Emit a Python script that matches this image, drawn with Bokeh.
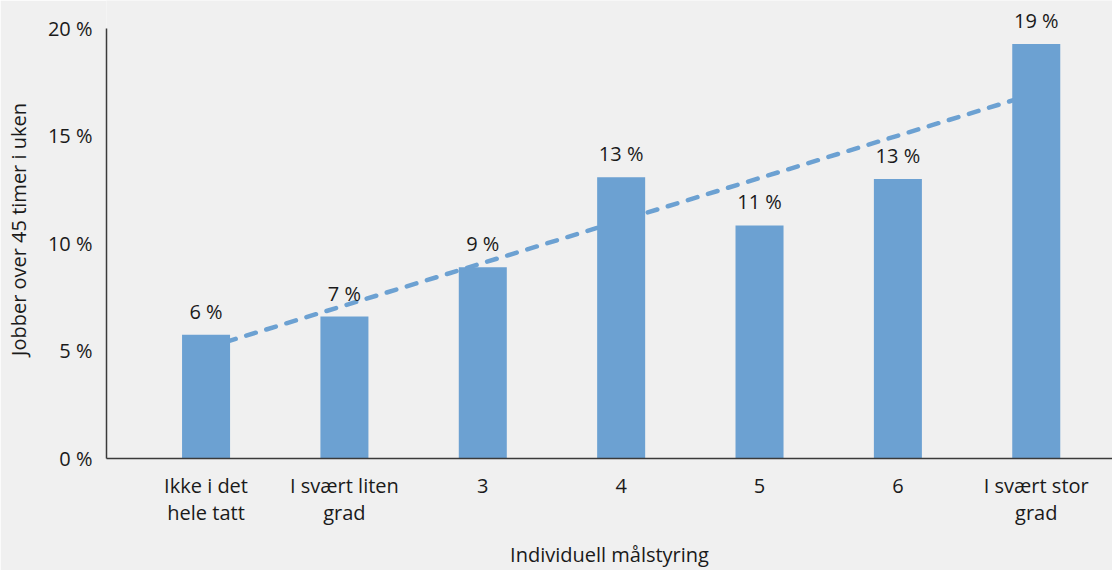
import numpy as np
from bokeh.plotting import figure
from bokeh.models import ColumnDataSource, FixedTicker, LabelSet, Range1d
from bokeh.core.properties import value
from bokeh.embed import file_html
from bokeh.resources import INLINE

# ---- data ----
categories = ["Ikke i det\nhele tatt", "I svært liten\ngrad", "3", "4", "5", "6", "I svært stor\ngrad"]
values = [5.76, 6.6, 8.9, 13.08, 10.84, 13.0, 19.28]
y_ticks = [0, 5, 10, 15, 20]
y_tick_labels = ["0 %", "5 %", "10 %", "15 %", "20 %"]
x_title = "Individuell målstyring"
y_title = "Jobber over 45 timer i uken"

FONT = "Open Sans"
BLUE = "#6CA1D2"
BG = "#F0F0F0"
TXT = "#1a1a1a"

xs = np.arange(1, len(values) + 1)
labels = [f"{round(v)} %" for v in values]
src = ColumnDataSource(dict(x=xs, top=values, label=labels))

# linear trend (least squares) from the data
slope, intercept = np.polyfit(xs, values, 1)
trend_x = [xs[0], xs[-1]]
trend_y = [intercept + slope * xs[0], intercept + slope * xs[-1]]

p = figure(width=1112, height=570, output_backend="svg", toolbar_location=None,
           x_range=Range1d(0.2805, 7.551), y_range=Range1d(0, 21.3),
           background_fill_color=BG, border_fill_color=BG,
           min_border_left=106, min_border_right=0, min_border_top=0, min_border_bottom=112)
p.outline_line_color = None
p.grid.visible = False

p.line(trend_x, trend_y, line_color=BLUE, line_width=4.5, line_dash="10 11", line_cap="round")
p.vbar(x="x", top="top", width=0.347, bottom=0, source=src, fill_color=BLUE, line_color=None)

p.add_layout(LabelSet(x="x", y="top", text="label", source=src, text_align="center",
                      text_baseline="alphabetic", y_offset=16, text_font=value(FONT),
                      text_font_size=value("20px"), text_color=TXT))

# y axis
ya = p.yaxis[0]
ya.ticker = FixedTicker(ticks=y_ticks)
ya.major_label_overrides = {t: l for t, l in zip(y_ticks, y_tick_labels)}
ya.bounds = (0, 20)
ya.axis_label = y_title
# x axis
xa = p.xaxis[0]
xa.ticker = FixedTicker(ticks=list(xs))
xa.major_label_overrides = {int(x): c for x, c in zip(xs, categories)}
xa.axis_label = x_title

for ax in (xa, ya):
    ax.axis_line_color = "#3a3a3a"
    ax.axis_line_width = 1.5
    ax.major_tick_out = 0
    ax.major_tick_in = 0
    ax.minor_tick_out = 0
    ax.minor_tick_in = 0
    ax.major_label_text_font = FONT
    ax.major_label_text_font_size = "20px"
    ax.major_label_text_color = TXT
    ax.axis_label_text_font = FONT
    ax.axis_label_text_font_size = "20px"
    ax.axis_label_text_font_style = "normal"
    ax.axis_label_text_color = TXT

ya.major_label_standoff = 14
ya.axis_label_standoff = 13
xa.major_label_standoff = 13
xa.major_label_text_line_height = 1.0
xa.axis_label_standoff = 12
xa.axis_label_text_line_height = 0.8

html = file_html(p, INLINE)
with open("out.html", "w") as f:
    f.write(html)
